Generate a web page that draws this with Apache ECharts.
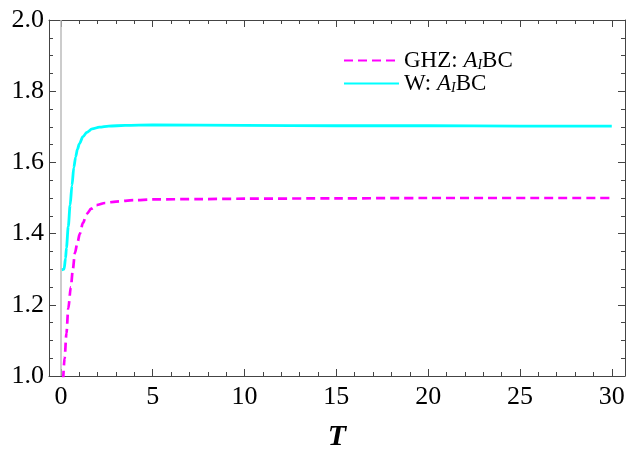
<!DOCTYPE html>
<html>
<head>
    <meta charset="utf-8">
    <title>T</title>
    <script src="https://cdn.jsdelivr.net/npm/echarts@6/dist/echarts.min.js"></script>
    <style>
        html, body { margin: 0; padding: 0; background: #fff; }
        #main { width: 632px; height: 457px; }
    </style>
</head>
<body>
    <div id="main"></div>
    <script type="text/javascript">
        // values
        var seriesNames = ['GHZ', 'W'];
        var ghzData = [
            [0.12, 0.99], [0.2, 1.05], [0.3, 1.12], [0.4, 1.19], [0.54, 1.25], [0.65, 1.30],
            [0.76, 1.345], [0.9, 1.375], [1.03, 1.40], [1.2, 1.43], [1.4, 1.455], [1.65, 1.47],
            [1.94, 1.48], [2.4, 1.486], [3.0, 1.49], [4, 1.494], [5, 1.496], [7.6, 1.497],
            [10, 1.498], [15, 1.499], [20, 1.5], [30, 1.5]
        ];
        var wData = [
            [0.04, 1.298], [0.17, 1.30], [0.25, 1.33], [0.3, 1.36], [0.4, 1.42], [0.5, 1.48],
            [0.6, 1.535], [0.7, 1.585], [0.8, 1.615], [0.9, 1.637], [1.0, 1.652], [1.2, 1.672],
            [1.4, 1.684], [1.7, 1.694], [2.1, 1.699], [2.6, 1.702], [3.5, 1.704], [5, 1.705],
            [10, 1.704], [15, 1.703], [20, 1.703], [25, 1.702], [30, 1.702]
        ];
        var xMajor = [0, 5, 10, 15, 20, 25, 30];
        var xMinor = [];
        for (var i = 1; i < 30; i++) {
            if (i % 5 != 0) xMinor.push(i);
        }

        var serif = 'Liberation Serif';
        var frameColor = '#444';

        function xAxisOf(pos, values, len, labels) {
            return {
                type: 'value',
                position: pos,
                min: -0.65,
                max: 30.72,
                axisLine: { show: labels, onZero: false, lineStyle: { color: frameColor, width: 1 } },
                axisTick: { show: true, inside: true, length: len, customValues: values,
                    lineStyle: { color: frameColor } },
                axisLabel: { show: labels, customValues: values, margin: 8,
                    color: '#000', fontFamily: serif, fontSize: 26 },
                splitLine: { show: false }
            };
        }

        function yAxisOf(pos, labels) {
            return {
                type: 'value',
                position: pos,
                min: 1,
                max: 2,
                interval: 0.2,
                axisLine: { show: true, onZero: false, lineStyle: { color: frameColor, width: 1 } },
                axisTick: { show: true, inside: true, length: 7, lineStyle: { color: frameColor } },
                minorTick: { show: true, splitNumber: 4, length: 4, lineStyle: { color: frameColor } },
                axisLabel: { show: labels, margin: 5, color: '#000', fontFamily: serif, fontSize: 26,
                    formatter: function (v) { return v.toFixed(1); } },
                splitLine: { show: false }
            };
        }

        var bottomAxis = xAxisOf('bottom', xMajor, 7, true);
        bottomAxis.name = 'T';
        bottomAxis.nameLocation = 'middle';
        bottomAxis.nameGap = 46;
        bottomAxis.nameTextStyle = { fontFamily: serif, fontSize: 30, fontWeight: 'bold',
            fontStyle: 'italic', color: '#000' };

        var topAxis = xAxisOf('top', xMajor, 7, true);
        topAxis.axisLabel.show = false;

        var option = {
            animation: false,
            grid: { left: 49, right: 7, top: 20, bottom: 81 },
            legend: {
                orient: 'vertical',
                left: 338,
                top: 44,
                itemWidth: 55,
                itemHeight: 18,
                itemGap: 0,
                itemStyle: { opacity: 0 },
                textStyle: {
                    fontFamily: serif, fontSize: 23, color: '#000', lineHeight: 22,
                    rich: {
                        i: { fontFamily: serif, fontSize: 23, fontStyle: 'italic', color: '#000', lineHeight: 22 },
                        s: { fontFamily: serif, fontSize: 14, fontStyle: 'italic', color: '#000',
                            lineHeight: 22, padding: [9, 0, 0, 0] }
                    }
                },
                formatter: function (name) {
                    return name + ': {i|A}{s|I}BC';
                },
                data: seriesNames
            },
            xAxis: [
                bottomAxis,
                xAxisOf('bottom', xMinor, 4, false),
                topAxis,
                xAxisOf('top', xMinor, 4, false)
            ],
            yAxis: [yAxisOf('left', true), yAxisOf('right', false)],
            series: [
                {
                    name: 'GHZ',
                    type: 'line',
                    data: ghzData,
                    symbol: 'none',
                    smooth: 0.3,
                    smoothMonotone: 'x',
                    lineStyle: { color: '#ff00ff', width: 2.7, type: [9, 5] },
                    itemStyle: { color: '#ff00ff' },
                    markLine: {
                        silent: true,
                        symbol: 'none',
                        label: { show: false },
                        lineStyle: { color: '#bbb', width: 1.5, type: 'solid' },
                        data: [{ xAxis: 0 }]
                    },
                    z: 3
                },
                {
                    name: 'W',
                    type: 'line',
                    data: wData,
                    symbol: 'none',
                    smooth: 0.3,
                    smoothMonotone: 'x',
                    lineStyle: { color: '#00ffff', width: 2.8 },
                    itemStyle: { color: '#00ffff' },
                    z: 3
                }
            ]
        };

        var myChart = echarts.init(document.getElementById('main'));
        myChart.setOption(option);
    </script>
</body>
</html>
